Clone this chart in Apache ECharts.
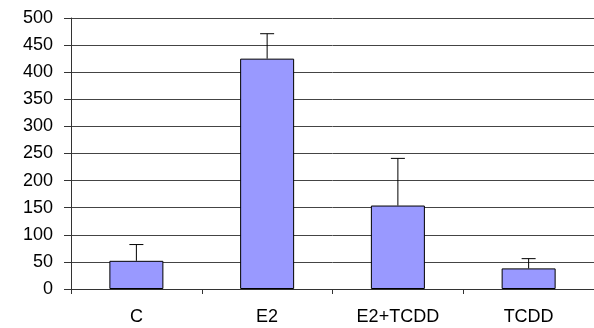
<!DOCTYPE html>
<html><head><meta charset="utf-8">
<script src="https://cdn.jsdelivr.net/npm/echarts@6/dist/echarts.min.js"></script>
<style>html,body{margin:0;padding:0;background:#fff}#c{width:594px;height:328px}</style>
</head><body><div id="c"></div>
<script>
var categories = ['C', 'E2', 'E2+TCDD', 'TCDD'];
var means = [52, 425, 154, 38];
var errorTops = [82, 471, 241, 56];
var yTicks = {min: 0, max: 500, interval: 50};

var chart = echarts.init(document.getElementById('c'));
var errData = categories.map(function (c, i) { return [i, means[i], errorTops[i]]; });
chart.setOption({
  animation: false,
  grid: {left: 71, right: 0, top: 18, bottom: 39},
  xAxis: {
    type: 'category', data: categories,
    axisLine: {lineStyle: {color: '#333', width: 1}},
    axisTick: {show: true, length: 5, lineStyle: {color: '#333'}},
    axisLabel: {color: '#000', fontFamily: 'Liberation Sans', fontSize: 18, margin: 19}
  },
  yAxis: {
    type: 'value', min: yTicks.min, max: yTicks.max, interval: yTicks.interval,
    axisLine: {show: true, lineStyle: {color: '#333', width: 1}},
    axisTick: {show: true, length: 7, lineStyle: {color: '#333'}},
    axisLabel: {color: '#000', fontFamily: 'Liberation Sans', fontSize: 18, margin: 18},
    splitLine: {show: true, lineStyle: {color: '#444', width: 1}}
  },
  series: [{
    type: 'bar', data: means, barWidth: 54,
    itemStyle: {color: '#9999FF', borderColor: '#000', borderWidth: 1}
  }, {
    type: 'custom', data: errData,
    renderItem: function (params, api) {
      var x = api.value(0);
      var p0 = api.coord([x, api.value(1)]);
      var p1 = api.coord([x, api.value(2)]);
      var hw = 7;
      var st = {stroke: '#000', lineWidth: 1};
      return {type: 'group', children: [
        {type: 'line', shape: {x1: p0[0], y1: p0[1], x2: p1[0], y2: p1[1]}, style: st},
        {type: 'line', shape: {x1: p1[0] - hw, y1: p1[1], x2: p1[0] + hw, y2: p1[1]}, style: st}
      ]};
    },
    z: 10
  }]
});
</script></body></html>
